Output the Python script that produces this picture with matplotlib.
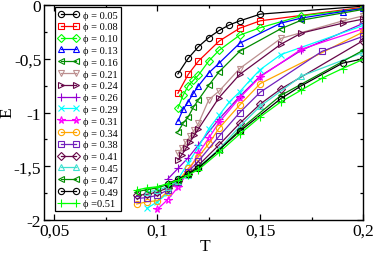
#!/usr/bin/env python3
"""
Curvas E(T) para varias fracoes phi, no estilo xmgrace (serif, ticks para dentro).
"""
import matplotlib
matplotlib.use('Agg')
import matplotlib.pyplot as plt
from matplotlib.ticker import FixedLocator, MultipleLocator

plt.rcParams['font.family'] = ['Liberation Serif', 'DejaVu Serif']

# ── Dados ────────────────────────────────────────────────────────────────────
LABELS = ["ϕ = 0.05", "ϕ = 0.08", "ϕ = 0.10", "ϕ = 0.13", "ϕ = 0.16",
          "ϕ = 0.21", "ϕ = 0.24", "ϕ = 0.26", "ϕ = 0.29", "ϕ = 0.31",
          "ϕ = 0.34", "ϕ = 0.38", "ϕ = 0.41", "ϕ = 0.45", "ϕ = 0.47",
          "ϕ = 0.49", "ϕ =0.51"]

T_005 = [0.11, 0.115, 0.12, 0.125, 0.13, 0.135, 0.14, 0.15, 0.2]
E_005 = [-0.64, -0.495, -0.386, -0.302, -0.236, -0.184, -0.147, -0.084, -0.01]

T_008 = [0.11, 0.115, 0.12, 0.13, 0.14, 0.15, 0.2]
E_008 = [-0.82, -0.645, -0.52, -0.335, -0.215, -0.146, -0.02]

T_010 = [0.11, 0.1125, 0.115, 0.1175, 0.12, 0.125, 0.13, 0.14, 0.15, 0.17, 0.2]
E_010 = [-0.96, -0.84, -0.75, -0.70, -0.65, -0.52, -0.42, -0.28, -0.21, -0.10, -0.03]

T_013 = [0.11, 0.1125, 0.115, 0.1175, 0.12, 0.125, 0.13, 0.14, 0.16, 0.17, 0.19, 0.2]
E_013 = [-1.08, -0.97, -0.90, -0.82, -0.75, -0.63, -0.54, -0.355, -0.168, -0.12, -0.06, -0.03]

T_016 = [0.11, 0.1125, 0.115, 0.1175, 0.12, 0.125, 0.13, 0.14, 0.16, 0.17, 0.2]
E_016 = [-1.18, -1.10, -1.04, -0.95, -0.88, -0.745, -0.62, -0.43, -0.22, -0.14, -0.04]

T_021 = [0.11, 0.112, 0.114, 0.116, 0.118, 0.12, 0.125, 0.13, 0.14, 0.16, 0.19, 0.2]
E_021 = [-1.38, -1.33, -1.27, -1.22, -1.16, -1.10, -0.88, -0.80, -0.59, -0.31, -0.147, -0.10]

T_024 = [0.11, 0.112, 0.114, 0.116, 0.118, 0.12, 0.13, 0.14, 0.16, 0.17, 0.19, 0.2]
E_024 = [-1.44, -1.39, -1.33, -1.27, -1.21, -1.15, -0.86, -0.645, -0.364, -0.26, -0.168, -0.13]

T_026 = [0.105, 0.11, 0.115, 0.12, 0.13, 0.14, 0.15, 0.17, 0.2]
E_026 = [-1.62, -1.52, -1.42, -1.30, -1.06, -0.85, -0.66, -0.42, -0.17]

T_029 = [0.095, 0.1, 0.105, 0.11, 0.115, 0.12, 0.125, 0.13, 0.135, 0.14, 0.145, 0.15, 0.16, 0.2]
E_029 = [-1.89, -1.83, -1.75, -1.62, -1.47, -1.32, -1.15, -1.025, -0.90, -0.807, -0.70, -0.60, -0.46, -0.19]

T_031 = [0.1, 0.105, 0.11, 0.115, 0.12, 0.125, 0.13, 0.14, 0.15, 0.17, 0.2]
E_031 = [-1.90, -1.81, -1.695, -1.55, -1.38, -1.237, -1.09, -0.863, -0.667, -0.41, -0.22]

T_034 = [0.09, 0.095, 0.1, 0.105, 0.11, 0.115, 0.12, 0.125, 0.13, 0.14, 0.15, 0.2]
E_034 = [-1.85, -1.83, -1.82, -1.735, -1.64, -1.52, -1.41, -1.29, -1.145, -0.93, -0.73, -0.25]

T_038 = [0.09, 0.095, 0.1, 0.105, 0.11, 0.115, 0.12, 0.13, 0.14, 0.15, 0.18, 0.2]
E_038 = [-1.80, -1.79, -1.77, -1.72, -1.65, -1.55, -1.45, -1.22, -1.00, -0.81, -0.43, -0.29]

T_041 = [0.09, 0.095, 0.1, 0.105, 0.11, 0.115, 0.12, 0.13, 0.14, 0.15, 0.16, 0.2]
E_041 = [-1.77, -1.76, -1.74, -1.70, -1.64, -1.57, -1.49, -1.30, -1.10, -0.92, -0.78, -0.33]

T_045 = [0.095, 0.1, 0.105, 0.11, 0.115, 0.12, 0.13, 0.14, 0.15, 0.17, 0.2]
E_045 = [-1.74, -1.72, -1.69, -1.64, -1.58, -1.51, -1.34, -1.13, -0.94, -0.66, -0.44]

T_047 = [0.09, 0.095, 0.1, 0.105, 0.11, 0.115, 0.12, 0.13, 0.14, 0.16, 0.2]
E_047 = [-1.735, -1.717, -1.70, -1.67, -1.63, -1.57, -1.51, -1.35, -1.16, -0.84, -0.42]

T_049 = [0.105, 0.11, 0.115, 0.12, 0.14, 0.16, 0.17, 0.19, 0.2]
E_049 = [-1.66, -1.62, -1.57, -1.517, -1.175, -0.87, -0.75, -0.54, -0.50]

T_051 = [0.09, 0.095, 0.1, 0.105, 0.11, 0.115, 0.12, 0.13, 0.14, 0.15, 0.16, 0.17, 0.18, 0.19, 0.2]
E_051 = [-1.72, -1.70, -1.69, -1.66, -1.63, -1.58, -1.53, -1.37, -1.20, -1.04, -0.90, -0.79, -0.68, -0.59, -0.505]

SERIES = [(T_005, E_005), (T_008, E_008), (T_010, E_010), (T_013, E_013),
          (T_016, E_016), (T_021, E_021), (T_024, E_024), (T_026, E_026),
          (T_029, E_029), (T_031, E_031), (T_034, E_034), (T_038, E_038),
          (T_041, E_041), (T_045, E_045), (T_047, E_047), (T_049, E_049),
          (T_051, E_051)]

X_TICKS = [0.05, 0.1, 0.15, 0.2]
X_TICKLABELS = ["0,05", "0,1", "0,15", "0,2"]
Y_TICKS = [0, -0.5, -1, -1.5, -2]
Y_TICKLABELS = ["0", "-0,5", "-1", "-1,5", "-2"]

# ── Estilo (paleta xmgrace) ──────────────────────────────────────────────────
COLORS = ["#000000", "#ff0000", "#00ff00", "#0000ff", "#008b00",
          "#bc8f8f", "#670748", "#9400d3", "#00ffff", "#ff00ff",
          "#ffa500", "#7221bc", "#670748", "#40e0d0", "#008b00",
          "#000000", "#00ff00"]
MARKERS = ["o", "s", "D", "^", "<", "v", ">", "+", "x", "*",
           "o", "s", "D", "^", "<", "o", "+"]
MSIZES = [4.5, 4.2, 3.6, 4.5, 4.5, 4.5, 4.5, 5.5, 4.5, 5.5,
          4.5, 4.2, 3.6, 4.5, 4.5, 4.5, 5.5]

fig = plt.figure(figsize=(3.74, 2.55), dpi=100)
ax = fig.add_axes([0.118, 0.133, 0.853, 0.843])

for (t, e), lab, c, m, ms in zip(SERIES, LABELS, COLORS, MARKERS, MSIZES):
    ax.plot(t, e, color=c, marker=m, markersize=ms, markerfacecolor='none',
            markeredgecolor=c, markeredgewidth=0.8, linewidth=0.9, label=lab)

ax.set_xlim(0.045, 0.2)
ax.set_ylim(-2, 0)
ax.xaxis.set_major_locator(FixedLocator(X_TICKS))
ax.set_xticklabels(X_TICKLABELS)
ax.xaxis.set_minor_locator(MultipleLocator(0.025))
ax.yaxis.set_major_locator(FixedLocator(Y_TICKS))
ax.set_yticklabels(Y_TICKLABELS)
ax.yaxis.set_minor_locator(MultipleLocator(0.25))

ax.tick_params(which='both', direction='in', top=True, right=True,
               labelsize=12.5, width=0.9, pad=2)
ax.tick_params(which='major', length=4)
ax.tick_params(which='minor', length=2.5)
for sp in ax.spines.values():
    sp.set_linewidth(1.0)

# rótulos dos eixos posicionados à mão (como no original)
ax.set_xlabel("T", fontsize=12.5)
ax.xaxis.set_label_coords(0.505, -0.122)
ax.xaxis.label.set_va('center')
ax.set_ylabel("E", fontsize=12.5)
ax.yaxis.set_label_coords(-0.115, 0.505)
ax.yaxis.label.set_va('center')

leg = ax.legend(loc='upper left', bbox_to_anchor=(0.034, 0.99), fontsize=7.5,
                numpoints=2, handlelength=2.0, handletextpad=0.4,
                labelspacing=0.24, borderpad=0.3, borderaxespad=0,
                frameon=True, fancybox=False, framealpha=1)
leg.get_frame().set_edgecolor('black')
leg.get_frame().set_linewidth(0.9)

fig.savefig("out.png", dpi=100)
